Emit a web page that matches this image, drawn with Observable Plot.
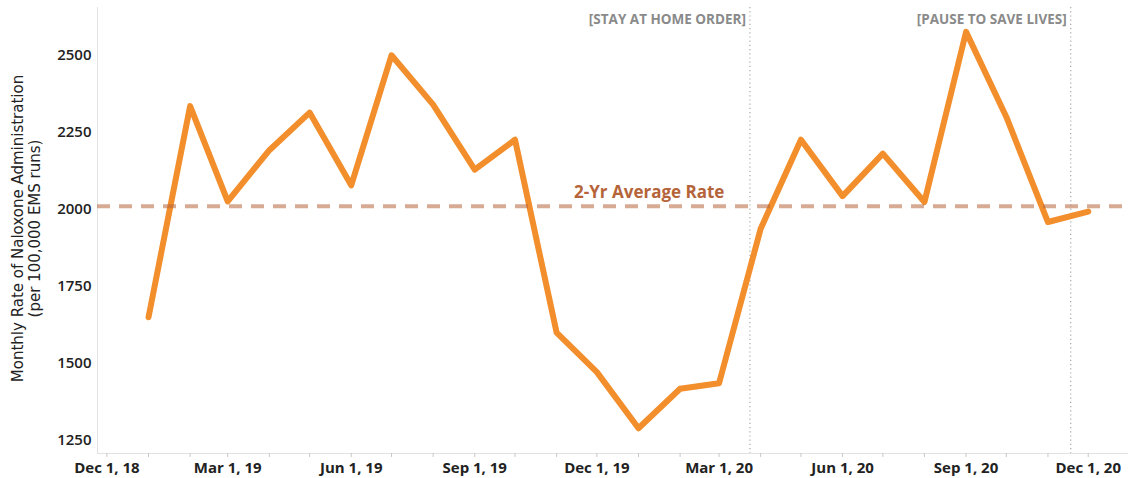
<!DOCTYPE html>
<html>
<head>
<meta charset="utf-8">
<script src="https://cdn.jsdelivr.net/npm/d3@7"></script>
<script src="https://cdn.jsdelivr.net/npm/@observablehq/plot@0.6"></script>
<style>
  html, body { margin: 0; padding: 0; background: #fff; }
  #chart { width: 1130px; height: 478px; overflow: hidden; }
</style>
</head>
<body>
<div id="chart"></div>
<script>
// ---- data ----
const months = [
  "2019-01-01","2019-02-01","2019-03-01","2019-04-01","2019-05-01","2019-06-01",
  "2019-07-01","2019-08-01","2019-09-01","2019-10-01","2019-11-01","2019-12-01",
  "2020-01-01","2020-02-01","2020-03-01","2020-04-01","2020-05-01","2020-06-01",
  "2020-07-01","2020-08-01","2020-09-01","2020-10-01","2020-11-01","2020-12-01"
];
const rates = [
  1650, 2335, 2026, 2192, 2314, 2078,
  2500, 2340, 2129, 2226, 1600, 1472,
  1290, 1418, 1436, 1937, 2226, 2043,
  2181, 2024, 2576, 2300, 1959, 1993
];
const avgRate = 2010;
const avgLabel = "2-Yr Average Rate";
const avgLabelDate = "2020-01-09";

const eventDates = ["2020-03-24", "2020-11-18"];
const eventLabels = ["[STAY AT HOME ORDER]", "[PAUSE TO SAVE LIVES]"];

const xTickDates = ["2018-12-01","2019-03-01","2019-06-01","2019-09-01","2019-12-01",
                    "2020-03-01","2020-06-01","2020-09-01","2020-12-01"];
const yTicks = [1250, 1500, 1750, 2000, 2250, 2500];
const yTitle = "Monthly Rate of Naloxone Administration\n(per 100,000 EMS runs)";

const xDomain = [new Date("2018-11-24"), new Date("2020-12-31")];
const yDomain = [1208, 2655];

// ---- build tables ----
const data = months.map((m, i) => ({date: new Date(m), value: rates[i]}));
const events = eventDates.map((d, i) => ({date: new Date(d), label: eventLabels[i]}));
const majorTicks = xTickDates.map(d => new Date(d));
const minorTicks = d3.utcMonth.range(new Date("2018-12-01"), new Date("2020-12-02"));
const fmt = d3.utcFormat("%b %-d, %y");

const font = "'Open Sans', 'DejaVu Sans', sans-serif";

const chart = Plot.plot({
  width: 1130,
  height: 478,
  marginTop: 7,
  marginBottom: 25,
  marginLeft: 97,
  marginRight: 2,
  style: {fontFamily: font, background: "white", overflow: "visible"},
  x: {type: "utc", domain: xDomain, label: null},
  y: {domain: yDomain, label: null},
  marks: [
    Plot.ruleX([xDomain[0]], {stroke: "#e2e2e2", strokeWidth: 1}),
    Plot.ruleY([yDomain[0]], {stroke: "#e2e2e2", strokeWidth: 1}),
    Plot.axisX(minorTicks, {tickSize: 4, tickFormat: () => "", stroke: "#c8c8c8", label: null}),
    Plot.axisX(majorTicks, {tickSize: 0, tickPadding: 9, tickFormat: fmt, fontSize: 15,
      fontWeight: 700, fill: "#222", label: null}),
    Plot.axisY(yTicks, {tickSize: 0, tickPadding: 6, tickFormat: d3.format("d"), fontSize: 15,
      fontWeight: 600, fill: "#222", label: null}),
    Plot.ruleX(events, {x: "date", stroke: "#a8a8a8", strokeWidth: 1.2, strokeDasharray: "1.2,3"}),
    Plot.text(events, {x: "date", text: "label", frameAnchor: "top", textAnchor: "end",
      lineAnchor: "middle", dx: -4, dy: 12, fontSize: 13.5, fontWeight: 700, fill: "#8a8a8a"}),
    Plot.line(data, {x: "date", y: "value", stroke: "#f28e2b", strokeWidth: 6,
      strokeLinejoin: "round", strokeLinecap: "round"}),
    Plot.ruleY([avgRate], {stroke: "#b5643a", strokeOpacity: 0.55, strokeWidth: 4,
      strokeDasharray: "13,9"}),
    Plot.text([avgLabel], {x: () => new Date(avgLabelDate), y: () => avgRate, text: d => d,
      lineAnchor: "middle", dy: -14, fontSize: 17, fontWeight: 700, fill: "#b5643a"}),
    Plot.text([yTitle], {frameAnchor: "left", text: d => d, rotate: -90, dx: -71.5, dy: -2,
      lineAnchor: "middle", textAnchor: "middle", lineHeight: 1.13, fontSize: 15,
      fontFamily: "'DejaVu Sans', sans-serif", fill: "#222"})
  ]
});

document.getElementById("chart").appendChild(chart);
</script>
</body>
</html>
